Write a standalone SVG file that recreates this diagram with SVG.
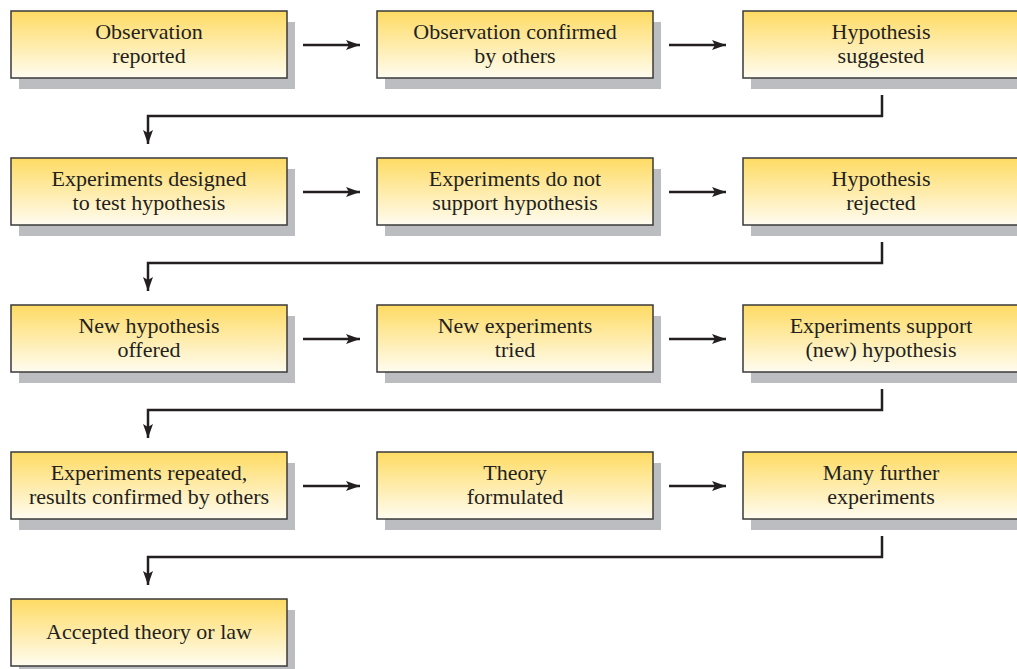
<svg xmlns="http://www.w3.org/2000/svg" width="1017" height="669" viewBox="0 0 1017 669">
<defs>
<linearGradient id="g" x1="0" y1="0" x2="0" y2="1">
<stop offset="0" stop-color="#FEDB63"/>
<stop offset="1" stop-color="#FFFCF0"/>
</linearGradient>
<marker id="ah" markerWidth="14" markerHeight="10" viewBox="0 0 14 10" refX="14" refY="5" orient="auto" markerUnits="userSpaceOnUse">
<path d="M0,0 L14,5 L0,10 L3,5 Z" fill="#231F20"/>
</marker>
<g id="box">
<rect x="8" y="11" width="276" height="67" fill="#BCBDC0"/>
<rect x="0" y="0" width="276" height="67" fill="url(#g)" stroke="#3a3a3a" stroke-width="1.5"/>
</g>
</defs>
<style>
text{font-family:"Liberation Serif","Times New Roman",serif;font-size:22px;fill:#231F20;text-anchor:middle}
.c{fill:none;stroke:#231F20;stroke-width:2.5}
</style>
<g id="connectors">
<path class="c" d="M303,45 H360" marker-end="url(#ah)"/>
<path class="c" d="M669,45 H726" marker-end="url(#ah)"/>
<path class="c" d="M882,95 V116 H148 V144" marker-end="url(#ah)"/>
<path class="c" d="M303,192 H360" marker-end="url(#ah)"/>
<path class="c" d="M669,192 H726" marker-end="url(#ah)"/>
<path class="c" d="M882,242 V263 H148 V291" marker-end="url(#ah)"/>
<path class="c" d="M303,339 H360" marker-end="url(#ah)"/>
<path class="c" d="M669,339 H726" marker-end="url(#ah)"/>
<path class="c" d="M882,389 V410 H148 V438" marker-end="url(#ah)"/>
<path class="c" d="M303,486 H360" marker-end="url(#ah)"/>
<path class="c" d="M669,486 H726" marker-end="url(#ah)"/>
<path class="c" d="M882,536 V557 H148 V585" marker-end="url(#ah)"/>
</g>
<g id="n1"><use href="#box" x="11" y="11"/><text x="149" y="39">Observation</text><text x="149" y="63">reported</text></g>
<g id="n2"><use href="#box" x="377" y="11"/><text x="515" y="39">Observation confirmed</text><text x="515" y="63">by others</text></g>
<g id="n3"><use href="#box" x="743" y="11"/><text x="881" y="39">Hypothesis</text><text x="881" y="63">suggested</text></g>
<g id="n4"><use href="#box" x="11" y="158"/><text x="149" y="186">Experiments designed</text><text x="149" y="210">to test hypothesis</text></g>
<g id="n5"><use href="#box" x="377" y="158"/><text x="515" y="186">Experiments do not</text><text x="515" y="210">support hypothesis</text></g>
<g id="n6"><use href="#box" x="743" y="158"/><text x="881" y="186">Hypothesis</text><text x="881" y="210">rejected</text></g>
<g id="n7"><use href="#box" x="11" y="305"/><text x="149" y="333">New hypothesis</text><text x="149" y="357">offered</text></g>
<g id="n8"><use href="#box" x="377" y="305"/><text x="515" y="333">New experiments</text><text x="515" y="357">tried</text></g>
<g id="n9"><use href="#box" x="743" y="305"/><text x="881" y="333">Experiments support</text><text x="881" y="357">(new) hypothesis</text></g>
<g id="n10"><use href="#box" x="11" y="452"/><text x="149" y="480">Experiments repeated,</text><text x="149" y="504">results confirmed by others</text></g>
<g id="n11"><use href="#box" x="377" y="452"/><text x="515" y="480">Theory</text><text x="515" y="504">formulated</text></g>
<g id="n12"><use href="#box" x="743" y="452"/><text x="881" y="480">Many further</text><text x="881" y="504">experiments</text></g>
<g id="n13"><use href="#box" x="11" y="599"/><text x="149" y="639">Accepted theory or law</text></g>
</svg>
